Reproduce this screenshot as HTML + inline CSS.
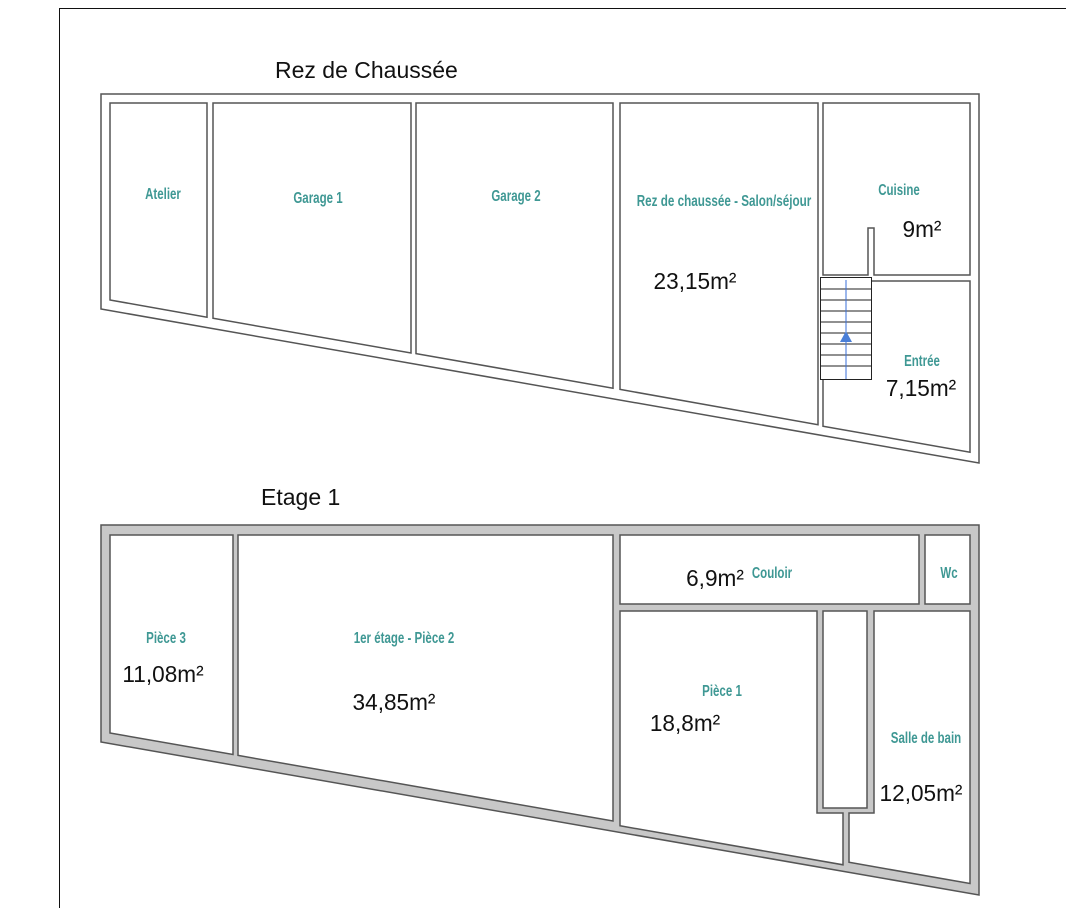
<!DOCTYPE html>
<html><head><meta charset="utf-8"><style>
html,body{margin:0;padding:0;background:#fff;}
svg{display:block;}
.lab{font-family:"Liberation Sans",sans-serif;font-size:16px;fill:#3f9894;font-weight:bold;}
.area{font-family:"Liberation Sans",sans-serif;font-size:20px;fill:#111;}
.title{font-family:"Liberation Sans",sans-serif;font-size:23px;fill:#111;}
</style></head><body>
<svg width="1066" height="908" viewBox="0 0 1066 908" xmlns="http://www.w3.org/2000/svg">
<rect width="1066" height="908" fill="#fff"/>
<path d="M59.5 908 V8.5 H1066" fill="none" stroke="#111" stroke-width="1"/>

<text class="title" x="275" y="78">Rez de Chaussée</text>
<text class="title" x="261" y="505">Etage 1</text>

<g stroke="#555" stroke-width="1.5" fill="#fff">
<polygon points="101,94 979,94 979,463 101,309"/>
<polygon points="110,103 207,103 207,317.2 110,300"/>
<polygon points="213,103 411,103 411,353 213,318.3"/>
<polygon points="416,103 613,103 613,388.2 416,353.6"/>
<polygon points="620,103 818,103 818,424.7 620,389.4"/>
<polygon points="823,103 970,103 970,275 874,275 874,228 868,228 868,275 823,275"/>
<polygon points="823,281 970,281 970,452.2 823,426.2"/>
</g>
<g stroke="#222" stroke-width="1" fill="#fff">
<rect x="820.5" y="277.5" width="51" height="102"/>
<line x1="821" y1="289" x2="871" y2="289"/>
<line x1="821" y1="300" x2="871" y2="300"/>
<line x1="821" y1="311" x2="871" y2="311"/>
<line x1="821" y1="322" x2="871" y2="322"/>
<line x1="821" y1="333" x2="871" y2="333"/>
<line x1="821" y1="344" x2="871" y2="344"/>
<line x1="821" y1="355" x2="871" y2="355"/>
<line x1="821" y1="366" x2="871" y2="366"/>
</g>
<line x1="846" y1="280" x2="846" y2="379" stroke="#3a6fd8" stroke-width="1"/>
<polygon points="846,331 840,342 852,342" fill="#4a7fd8"/>

<g stroke="#555" stroke-width="1.5">
<polygon points="101,525 979,525 979,895 101,742" fill="#c8c8c8"/>
<g fill="#fff">
<polygon points="110,535 233,535 233,754.5 110,733"/>
<polygon points="238,535 613,535 613,821 238,755.4"/>
<polygon points="620,535 919,535 919,604 620,604"/>
<polygon points="925,535 970,535 970,604 925,604"/>
<polygon points="620,611 817,611 817,813 843,813 843,864.8 620,825.8"/>
<rect x="823" y="611" width="44" height="197"/>
<polygon points="874,611 970,611 970,883.5 849,862.3 849,813 874,813"/>
</g>
</g>

<g text-anchor="middle">
<text class="lab" x="163" y="199" transform="translate(163 0) scale(0.72 1) translate(-163 0)">Atelier</text>
<text class="lab" x="318" y="203" transform="translate(318 0) scale(0.72 1) translate(-318 0)">Garage 1</text>
<text class="lab" x="516" y="201" transform="translate(516 0) scale(0.72 1) translate(-516 0)">Garage 2</text>
<text class="lab" x="724" y="206" transform="translate(724 0) scale(0.73 1) translate(-724 0)">Rez de chaussée - Salon/séjour</text>
<text class="lab" x="899" y="195" transform="translate(899 0) scale(0.72 1) translate(-899 0)">Cuisine</text>
<text class="lab" x="922" y="366" transform="translate(922 0) scale(0.72 1) translate(-922 0)">Entrée</text>
<text class="lab" x="166" y="643" transform="translate(166 0) scale(0.72 1) translate(-166 0)">Pièce 3</text>
<text class="lab" x="404" y="643" transform="translate(404 0) scale(0.72 1) translate(-404 0)">1er étage - Pièce 2</text>
<text class="lab" x="772" y="578" transform="translate(772 0) scale(0.72 1) translate(-772 0)">Couloir</text>
<text class="lab" x="949" y="578" transform="translate(949 0) scale(0.72 1) translate(-949 0)">Wc</text>
<text class="lab" x="722" y="696" transform="translate(722 0) scale(0.72 1) translate(-722 0)">Pièce 1</text>
<text class="lab" x="926" y="743" transform="translate(926 0) scale(0.72 1) translate(-926 0)">Salle de bain</text>
</g>

<g text-anchor="middle">
<text class="area" transform="translate(922 237) scale(1.13 1.15)">9m²</text>
<text class="area" transform="translate(695 289) scale(1.13 1.15)">23,15m²</text>
<text class="area" transform="translate(921 396) scale(1.13 1.15)">7,15m²</text>
<text class="area" transform="translate(163 682) scale(1.13 1.15)">11,08m²</text>
<text class="area" transform="translate(394 710) scale(1.13 1.15)">34,85m²</text>
<text class="area" transform="translate(715 586) scale(1.13 1.15)">6,9m²</text>
<text class="area" transform="translate(685 731) scale(1.13 1.15)">18,8m²</text>
<text class="area" transform="translate(921 801) scale(1.13 1.15)">12,05m²</text>
</g>
</svg>
</body></html>
